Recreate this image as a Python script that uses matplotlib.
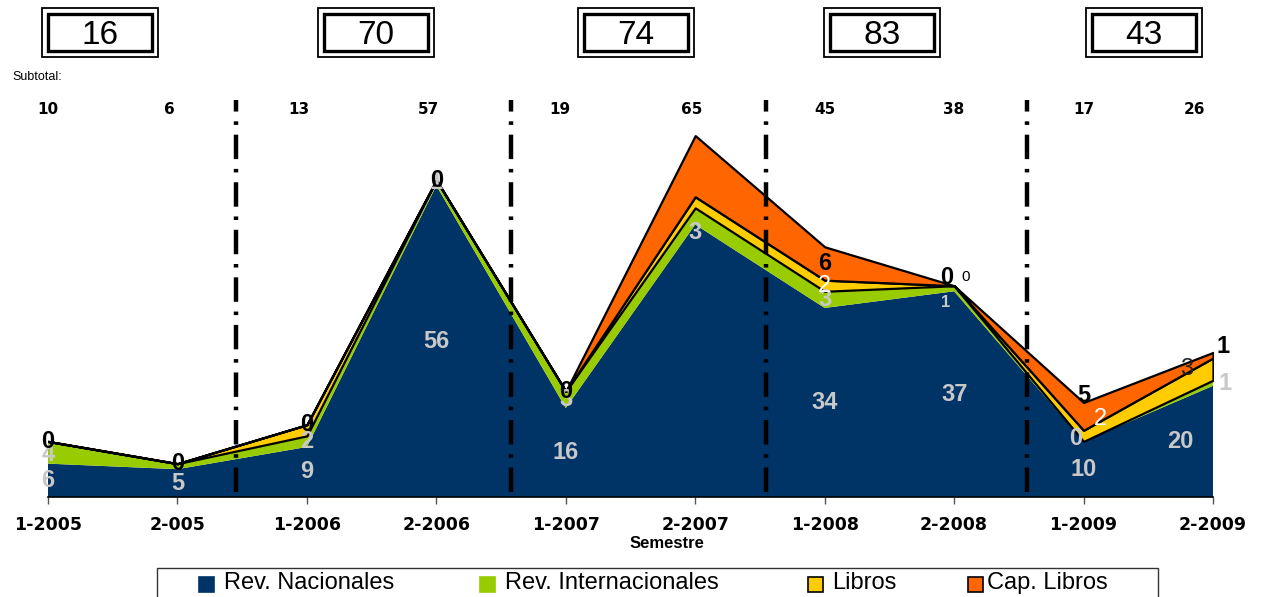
import matplotlib
matplotlib.use("Agg")
import matplotlib.pyplot as plt
from matplotlib.patches import Rectangle
from matplotlib.transforms import blended_transform_factory, offset_copy
import numpy as np

# ---------------- data ----------------
semestres = ['1-2005', '2-005', '1-2006', '2-2006', '1-2007',
             '2-2007', '1-2008', '2-2008', '1-2009', '2-2009']
rev_nacionales = [6, 5, 9, 56, 16, 49, 34, 37, 10, 20]
rev_internacionales = [4, 1, 2, 1, 3, 3, 3, 1, 0, 1]
libros = [0, 0, 2, 0, 0, 2, 2, 0, 2, 4]
cap_libros = [0, 0, 0, 0, 0, 11, 6, 0, 5, 1]
subtotales = [10, 6, 13, 57, 19, 65, 45, 38, 17, 26]
totales_anio = [16, 70, 74, 83, 43]
series_nombres = ['Rev. Nacionales', 'Rev. Internacionales', 'Libros', 'Cap. Libros']
# label text shown in the reference where it differs from the plotted value
etiqueta_override = {(2, 9): '3'}

colores = ['#003366', '#99CC00', '#FFCC00', '#FF6600']
FONT = 'Liberation Sans'

W, H = 1261, 597
fig = plt.figure(figsize=(W / 100, H / 100), dpi=100)

def fx(px):
    return px / W

def fy(py):
    return 1 - py / H

ax_l, ax_r, ax_t, ax_b = 48, 1213, 100, 497
ax = fig.add_axes([fx(ax_l), fy(ax_b), fx(ax_r - ax_l), (ax_b - ax_t) / H])

x = np.arange(len(semestres))
series = [np.array(rev_nacionales), np.array(rev_internacionales),
          np.array(libros), np.array(cap_libros)]
cum = np.cumsum(np.vstack(series), axis=0)
bottoms = np.vstack([np.zeros(len(x)), cum[:-1]])

for i in range(4):
    if i >= 2:
        ax.fill_between(x, bottoms[i], cum[i], facecolor=colores[i],
                        edgecolor='black', linewidth=1.6, zorder=2 + i)
    else:
        ax.fill_between(x, bottoms[i], cum[i], facecolor=colores[i],
                        edgecolor='none', linewidth=0, zorder=2 + i)

ax.set_xlim(0, len(x) - 1)
ax.set_ylim(0, (ax_b - ax_t) / 5.56)

for s in ['top', 'right', 'left']:
    ax.spines[s].set_visible(False)
ax.spines['bottom'].set_linewidth(1.2)
ax.spines['bottom'].set_zorder(10)
ax.set_yticks([])
ax.set_xticks(x)
ax.set_xticklabels(semestres, fontfamily='DejaVu Sans', fontweight='bold', fontsize=12.5)
ax.tick_params(axis='x', direction='out', length=5, width=1, pad=9, color='#555555')
ax.set_facecolor('none')

# vertical separators between years
for xv in [1.45, 3.58, 5.55, 7.56]:
    ax.axvline(xv, ymin=0.012, ymax=1.0, color='black', linewidth=3.2,
               linestyle=(0, (5.5, 2.2, 0.8, 2.2)), zorder=8)

# subtotal labels
bt = blended_transform_factory(ax.transData, ax.transAxes)
sub_dx = [0, -8, -8, -8, -6, -4, 0, 0, 0, -18]
for i, v in enumerate(subtotales):
    t = offset_copy(bt, fig=fig, x=sub_dx[i] * 0.72, y=0, units='points')
    ax.text(i, 0.975, str(v), transform=t, ha='center', va='center',
            fontfamily='DejaVu Sans', fontweight='bold', fontsize=11, zorder=12)

fig.text(fx(12), fy(77), 'Subtotal:', fontfamily=FONT, fontsize=9, va='center', ha='left')

# data labels: (series, point, anchor, dx_px, dy_units, color, weight, size)
etiquetas = []
for j in range(10):
    if j == 5:
        continue
    dx = -33 if j == 9 else 0
    etiquetas.append((0, j, 'mid', dx, 0, '#C8C8C8', 'bold', 17))
int_adj = {0: (0, -0.4), 2: (0, 0), 3: (0, 0), 4: (0, 0), 5: (0, -3),
           6: (0, 0), 7: (-8, -2.6), 8: (-8, 0.6), 9: (12, 0)}
for j, (dx, dy) in int_adj.items():
    size = 12 if j == 7 else 17
    etiquetas.append((1, j, 'mid', dx, dy, '#C8C8C8', 'bold', size))
lib_adj = {6: (0, 0, 'white', 'normal', 17), 8: (17, 3, 'white', 'normal', 17),
           9: (-26, 0, '#222222', 'normal', 17), 7: (12, 1.6, 'black', 'normal', 11)}
for j, (dx, dy, c, w, s) in lib_adj.items():
    etiquetas.append((2, j, 'mid' if j != 7 else 'top', dx, dy, c, w, s))
cap_adj = {0: (0, 0), 1: (0, 0), 2: (0, 0), 3: (0, 0), 4: (0, 0),
           6: (0, -3), 7: (-7, 1.5), 8: (0, 1.2), 9: (10, 1.0)}
for j, (dx, dy) in cap_adj.items():
    etiquetas.append((3, j, 'top', dx, dy, 'black', 'bold', 17))

for (si, j, anchor, dx, dy, c, w, s) in etiquetas:
    if anchor == 'mid':
        yv = bottoms[si][j] + series[si][j] / 2.0
    else:
        yv = cum[3][j]
    yv += dy
    txt = etiqueta_override.get((si, j), str(series[si][j]))
    t = offset_copy(ax.transData, fig=fig, x=dx * 0.72, y=0, units='points')
    ax.text(j, yv, txt, transform=t, ha='center', va='center', color=c,
            fontweight=w, fontsize=s, fontfamily=FONT, zorder=20, clip_on=False)

fig.text(fx(667), fy(544), 'Semestre', fontfamily=FONT, fontweight='bold',
         fontsize=12, ha='center', va='center')

# annual totals in double boxes
box_centers = [100, 376, 636, 882, 1144]
for cx, v in zip(box_centers, totales_anio):
    fig.patches.append(Rectangle((fx(cx - 58), fy(57)), fx(116), 49 / H,
                                 transform=fig.transFigure, fill=False,
                                 edgecolor='black', linewidth=1.3))
    fig.patches.append(Rectangle((fx(cx - 52), fy(51)), fx(104), 37 / H,
                                 transform=fig.transFigure, fill=False,
                                 edgecolor='black', linewidth=2.4))
    fig.text(fx(cx), fy(35), str(v), fontfamily=FONT, fontsize=24,
             ha='center', va='center')

# legend
fig.patches.append(Rectangle((fx(157), fy(600)), fx(1001), 32 / H,
                             transform=fig.transFigure, fill=True, facecolor='white',
                             edgecolor='#333333', linewidth=1.0))
leg_sq = [199, 480, 808, 968]
leg_tx = [224, 505, 832, 987]
for i in range(4):
    ec = 'black' if i >= 2 else colores[i]
    fig.patches.append(Rectangle((fx(leg_sq[i]), fy(592)), fx(15), 15 / H,
                                 transform=fig.transFigure, facecolor=colores[i],
                                 edgecolor=ec, linewidth=1.2))
    fig.text(fx(leg_tx[i]), fy(583), series_nombres[i], fontfamily=FONT,
             fontsize=17, ha='left', va='center')

fig.savefig('out.png', dpi=100)
